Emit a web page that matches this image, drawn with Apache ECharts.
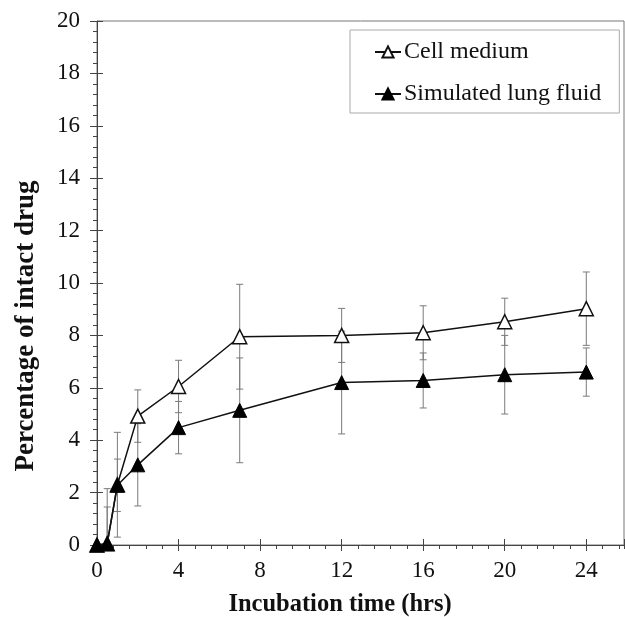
<!DOCTYPE html>
<html>
<head>
<meta charset="utf-8">
<script src="https://cdn.jsdelivr.net/npm/echarts@6/dist/echarts.min.js"></script>
<style>
  html, body { margin: 0; padding: 0; background: #fff; }
  #chart { width: 625px; height: 617px; }
</style>
</head>
<body>
<div id="chart"></div>
<script>
// data
const times = [0, 0.5, 1, 2, 4, 7, 12, 16, 20, 24];
const cellMedium = [0, 0.05, 2.3, 4.92, 6.05, 7.95, 8.0, 8.1, 8.52, 9.02];
const cellMediumErr = [0, 2.1, 2.0, 1.0, 1.0, 2.0, 1.03, 1.03, 0.9, 1.4];
const lungFluid = [0, 0.05, 2.28, 3.06, 4.48, 5.14, 6.2, 6.28, 6.5, 6.6];
const lungFluidErr = [0, 1.4, 1.0, 1.57, 1.0, 2.0, 1.96, 1.05, 1.5, 0.92];
const seriesNames = ['Cell medium', 'Simulated lung fluid'];
const xTitle = 'Incubation time (hrs)';
const yTitle = 'Percentage of intact drug';

const serif = '"Liberation Serif", "Times New Roman", serif';
const axisColor = '#444';
const xMax = 25.85;

const chart = echarts.init(document.getElementById('chart'));

// [x, low, high] per point, the low end stops at the axis
const toErrorData = (values, errs) =>
    times.map((t, i) => [t, Math.max(0, values[i] - errs[i]), values[i] + errs[i], errs[i]]);

function renderErrorBar(params, api) {
    if (!api.value(3)) return null;
    const x = api.value(0);
    const lo = api.coord([x, api.value(1)]);
    const hi = api.coord([x, api.value(2)]);
    const w = 3.5;
    const style = { stroke: '#7a7a7a', lineWidth: 1 };
    const children = [
        { type: 'line', shape: { x1: lo[0], y1: lo[1], x2: hi[0], y2: hi[1] }, style },
        { type: 'line', shape: { x1: hi[0] - w, y1: hi[1], x2: hi[0] + w, y2: hi[1] }, style }
    ];
    if (api.value(1) > 0) {
        children.push({ type: 'line', shape: { x1: lo[0] - w, y1: lo[1], x2: lo[0] + w, y2: lo[1] }, style });
    }
    return { type: 'group', children };
}

const tickOnly = (extra) => Object.assign({
    type: 'value', position: 'bottom', min: 0, max: xMax,
    axisLine: { show: false }, axisLabel: { show: false }, splitLine: { show: false }
}, extra);

chart.setOption({
    animation: false,
    backgroundColor: '#fff',
    grid: {
        left: 97, top: 21, right: 1, bottom: 72,
        show: true, borderColor: '#777', borderWidth: 1
    },
    legend: {
        orient: 'vertical',
        left: 350, top: 30,
        padding: [10, 18, 7, 24],
        itemGap: 18,
        itemWidth: 26, itemHeight: 14,
        borderColor: '#aaa', borderWidth: 1,
        data: seriesNames,
        textStyle: { fontFamily: serif, fontSize: 24, color: '#111', lineHeight: 24, padding: [0, 0, 0, -2] }
    },
    xAxis: [
        {
            type: 'value', position: 'bottom', min: 0, max: xMax, interval: 4,
            axisLine: { show: true, onZero: false, lineStyle: { color: axisColor } },
            axisTick: { show: true, length: 6, lineStyle: { color: axisColor } },
            axisLabel: {
                showMaxLabel: false, margin: 14,
                fontFamily: serif, fontSize: 23, color: '#111'
            },
            splitLine: { show: false }
        },
        tickOnly({ interval: 0.8, axisTick: { show: true, length: 4, lineStyle: { color: axisColor } } }),
        tickOnly({ interval: 4, axisTick: { show: true, inside: true, length: 6, lineStyle: { color: axisColor } } })
    ],
    yAxis: [
        {
            type: 'value', position: 'left', min: 0, max: 20, interval: 2,
            axisLine: { show: true, onZero: false, lineStyle: { color: axisColor } },
            axisTick: { show: true, length: 7, lineStyle: { color: axisColor } },
            minorTick: { show: true, splitNumber: 5, length: 4, lineStyle: { color: axisColor } },
            axisLabel: { margin: 17, fontFamily: serif, fontSize: 23, color: '#111' },
            splitLine: { show: false }
        },
        {
            type: 'value', position: 'left', min: 0, max: 20, interval: 2,
            axisLine: { show: false },
            axisTick: { show: true, inside: true, length: 6, lineStyle: { color: axisColor } },
            axisLabel: { show: false },
            splitLine: { show: false }
        }
    ],
    graphic: [
        {
            type: 'text', x: 340, y: 605,
            style: {
                text: xTitle, fontFamily: serif, fontSize: 24.5, fontWeight: 'bold',
                fill: '#111', align: 'center', verticalAlign: 'middle'
            }
        },
        {
            type: 'text', x: 26, y: 326, rotation: Math.PI / 2,
            style: {
                text: yTitle, fontFamily: serif, fontSize: 27, fontWeight: 'bold',
                fill: '#111', align: 'center', verticalAlign: 'middle'
            }
        }
    ],
    series: [
        {
            type: 'custom', name: 'cellErr', z: 1, silent: true,
            renderItem: renderErrorBar, data: toErrorData(cellMedium, cellMediumErr)
        },
        {
            type: 'custom', name: 'lungErr', z: 1, silent: true,
            renderItem: renderErrorBar, data: toErrorData(lungFluid, lungFluidErr)
        },
        {
            type: 'line', name: seriesNames[0], z: 3,
            data: times.map((t, i) => [t, cellMedium[i]]),
            symbol: 'triangle', symbolSize: 14,
            lineStyle: { color: '#111', width: 1.5 },
            itemStyle: { color: '#fff', borderColor: '#111', borderWidth: 1.5 }
        },
        {
            type: 'line', name: seriesNames[1], z: 4,
            data: times.map((t, i) => [t, lungFluid[i]]),
            symbol: 'triangle', symbolSize: 14,
            lineStyle: { color: '#111', width: 1.5 },
            itemStyle: { color: '#000', borderColor: '#000', borderWidth: 1 }
        }
    ]
});

window.addEventListener('resize', () => chart.resize());
</script>
</body>
</html>
